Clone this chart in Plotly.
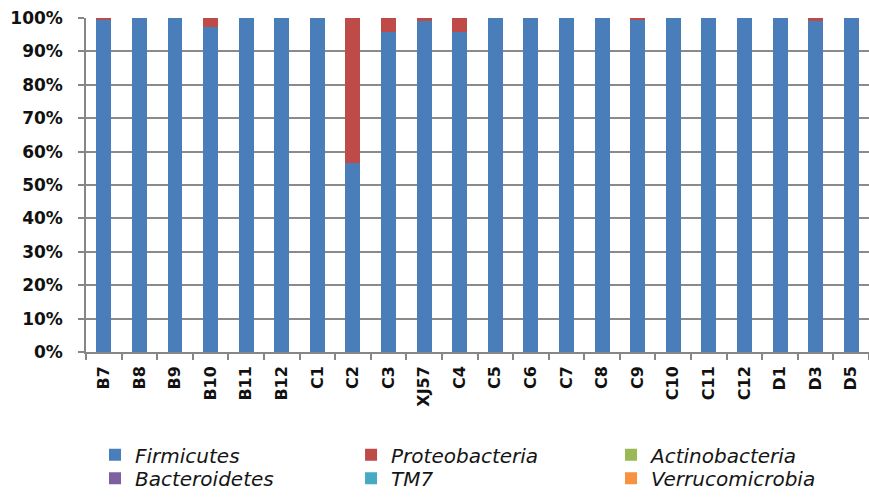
import plotly.graph_objects as go

samples = ["B7", "B8", "B9", "B10", "B11", "B12", "C1", "C2", "C3", "XJ57", "C4",
           "C5", "C6", "C7", "C8", "C9", "C10", "C11", "C12", "D1", "D3", "D5"]

firmicutes = [0.993, 1.0, 1.0, 0.973, 1.0, 1.0, 1.0, 0.566, 0.958, 0.992, 0.958,
              1.0, 1.0, 1.0, 1.0, 0.993, 1.0, 1.0, 1.0, 1.0, 0.992, 1.0]
proteobacteria = [0.007, 0.0, 0.0, 0.027, 0.0, 0.0, 0.0, 0.434, 0.042, 0.008, 0.042,
                  0.0, 0.0, 0.0, 0.0, 0.007, 0.0, 0.0, 0.0, 0.0, 0.008, 0.0]
actinobacteria = [0.0] * 22
bacteroidetes = [0.0] * 22
tm7 = [0.0] * 22
verrucomicrobia = [0.0] * 22

series = [
    ("Firmicutes", firmicutes, "#4A7EBB"),
    ("Proteobacteria", proteobacteria, "#BE4B48"),
    ("Actinobacteria", actinobacteria, "#98B954"),
    ("Bacteroidetes", bacteroidetes, "#7D60A0"),
    ("TM7", tm7, "#46AAC5"),
    ("Verrucomicrobia", verrucomicrobia, "#F69240"),
]

# legend slot positions (paper coords): 3 columns x 2 rows
legend_x = [0.0115, 0.3385, 0.6705]
legend_y = [-0.308, -0.378]

fig = go.Figure()
legend_layout = {}
for i, (name, vals, color) in enumerate(series):
    lid = "legend" if i == 0 else f"legend{i + 1}"
    fig.add_trace(go.Bar(x=samples, y=vals, name=name, marker_color=color,
                         marker_line_width=0, legend=lid, showlegend=True))
    legend_layout[lid] = dict(
        x=legend_x[i % 3], xanchor="left",
        y=legend_y[i // 3], yanchor="middle",
        font=dict(family="DejaVu Sans", size=20, style="italic", color="#151515"),
        itemwidth=30,
        bgcolor="rgba(0,0,0,0)",
        borderwidth=0,
    )

fig.update_layout(
    barmode="stack",
    bargap=0.58,
    showlegend=True,
    width=869, height=498,
    margin=dict(l=86, r=0, t=18, b=146),
    plot_bgcolor="white",
    paper_bgcolor="white",
    font=dict(family="DejaVu Sans", size=16, color="#111111"),
    xaxis=dict(
        tickangle=-90,
        showline=True, linecolor="#868686", linewidth=1.5,
        ticks="outside", ticklen=6, tickcolor="#868686", tickwidth=1.5,
        tickson="boundaries",
        ticklabelstandoff=6,
        tickfont=dict(family="DejaVu Sans", size=16, weight="bold"),
        showgrid=False,
    ),
    yaxis=dict(
        range=[0, 1], tickformat=".0%", dtick=0.1,
        showline=True, linecolor="#868686", linewidth=1.5,
        ticks="outside", ticklen=6, tickcolor="#868686", tickwidth=1.5,
        ticklabelstandoff=12,
        showgrid=True, gridcolor="#8a8a8a", gridwidth=1.5,
        tickfont=dict(family="DejaVu Sans", size=17, weight="bold"),
        zeroline=False,
    ),
    **legend_layout,
)

fig.write_html("out.html")
